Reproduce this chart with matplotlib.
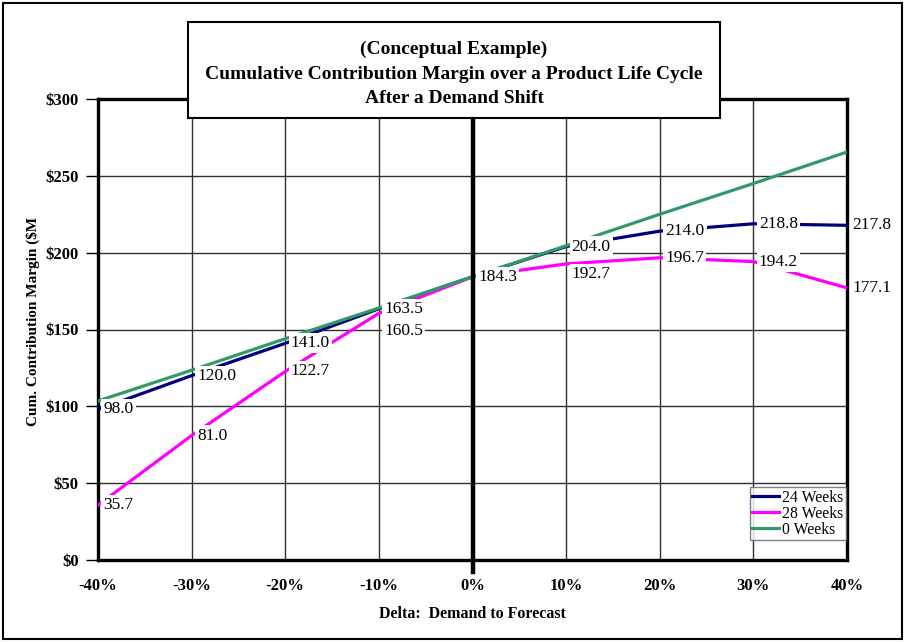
import matplotlib
matplotlib.use("Agg")
import matplotlib.pyplot as plt
from matplotlib.patches import Rectangle
from matplotlib.lines import Line2D

# ---- data ----
delta_pct = [-40, -30, -20, -10, 0, 10, 20, 30, 40]
weeks24 = [98.0, 120.0, 141.0, 163.5, 184.3, 204.0, 214.0, 218.8, 217.8]
weeks28 = [35.7, 81.0, 122.7, 160.5, 184.3, 192.7, 196.7, 194.2, 177.1]
weeks0 = [103.5, 123.5, 144.0, 164.0, 184.3, 204.5, 225.0, 245.0, 265.5]
series_names = ["24 Weeks", "28 Weeks", "0 Weeks"]
y_ticks = [0, 50, 100, 150, 200, 250, 300]
x_ticks = [-40, -30, -20, -10, 0, 10, 20, 30, 40]

# label vertical offsets (points) for labels moved by hand in the original
offs28 = {-10: -13, 10: -7}
skip28 = {0}

W, H = 905, 642
fig = plt.figure(figsize=(W / 100, H / 100), dpi=100)
plt.rcParams['font.family'] = ['Liberation Serif', 'DejaVu Serif']

L, R, T, B = 98, 847, 99, 560
ax = fig.add_axes([L / W, 1 - B / H, (R - L) / W, (B - T) / H])

ax.set_xlim(-40, 40)
ax.set_ylim(0, 300)

# grid
for y in y_ticks[1:-1]:
    ax.axhline(y, color='#303030', lw=1.0, zorder=1)
for x in x_ticks[1:-1]:
    if x != 0:
        ax.axvline(x, color='#303030', lw=1.0, zorder=1)

c24, c28, c0 = '#000080', '#FF00FF', '#339966'
ax.plot(delta_pct, weeks24, color=c24, lw=2.3, zorder=3, label=series_names[0])
ax.plot(delta_pct, weeks28, color=c28, lw=2.3, zorder=3, label=series_names[1])
ax.plot(delta_pct, weeks0, color=c0, lw=2.3, zorder=3, label=series_names[2])

# vertical axis at 0%
ax.add_line(Line2D([0, 0], [-8, 300], color='black', lw=3.2, zorder=4, clip_on=False))

lbl_kw = dict(fontsize=12.5, ha='left', va='center', zorder=6,
              bbox=dict(boxstyle='square,pad=0.12', fc='white', ec='none'))
for x, y in zip(delta_pct, weeks24):
    ax.annotate(f"{y:.1f}", (x, y), xytext=(4, 0), textcoords='offset points', **lbl_kw)
for x, y in zip(delta_pct, weeks28):
    if x in skip28:
        continue
    ax.annotate(f"{y:.1f}", (x, y), xytext=(4, offs28.get(x, 0)), textcoords='offset points', **lbl_kw)

for s in ax.spines.values():
    s.set_linewidth(2.4)
    s.set_color('black')

ax.set_yticks(y_ticks)
ax.set_yticklabels([f"${v}" for v in y_ticks], fontsize=12, fontweight='bold')
ax.set_xticks(x_ticks)
ax.set_xticklabels([f"{v}%" for v in x_ticks], fontsize=12, fontweight='bold')
ax.tick_params(axis='y', direction='out', length=9, width=1, pad=5)
ax.tick_params(axis='x', direction='out', length=0, pad=13)

leg = ax.legend(loc='lower right', bbox_to_anchor=(0.998, 0.043), borderaxespad=0,
                fontsize=11.3, frameon=True, fancybox=False, handlelength=1.7,
                handletextpad=0.2, borderpad=0.15, labelspacing=0.0)
leg.get_frame().set_edgecolor('#606060')
leg.get_frame().set_linewidth(1.0)
leg.set_zorder(7)

fig.text(33 / W, 1 - 321 / H, "Cum. Contribution Margin ($M", rotation=90,
         ha='center', va='center', fontsize=11, fontweight='bold')
fig.text(472 / W, 1 - 614 / H, "Delta:  Demand to Forecast",
         ha='center', va='center', fontsize=11.5, fontweight='bold')

# title box
fig.patches.append(Rectangle((188 / W, 1 - 118 / H), (720 - 188) / W, (118 - 22) / H,
                             transform=fig.transFigure, fc='white', ec='black', lw=1.5, zorder=10))
fig.text(454 / W, 1 - 74 / H,
         "(Conceptual Example)\nCumulative Contribution Margin over a Product Life Cycle\nAfter a Demand Shift",
         ha='center', va='center', fontsize=14, fontweight='bold', linespacing=1.6, zorder=11)

# figure border
fig.patches.append(Rectangle((3 / W, 3 / H), (W - 6) / W, (H - 6) / H,
                             transform=fig.transFigure, fill=False, ec='black', lw=1.5, zorder=12))

fig.savefig("out.png", dpi=100)
